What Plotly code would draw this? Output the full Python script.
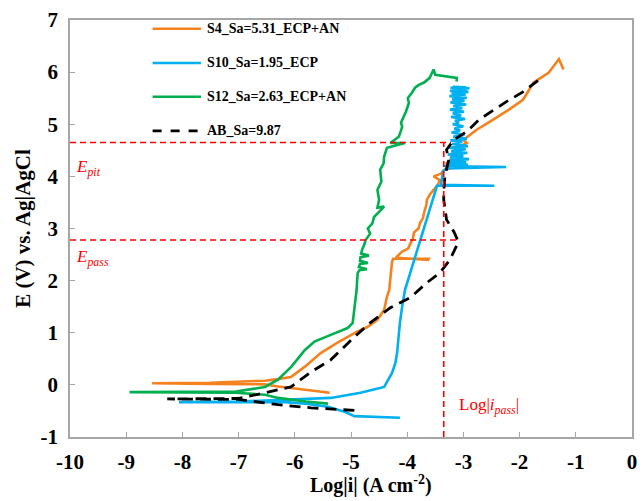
import plotly.graph_objects as go

# Potentiodynamic polarization curves: log|i| (A cm^-2) vs E (V vs Ag|AgCl)
s4_logi = [-5.38, -5.82, -6.07, -6.30, -6.53, -7.50, -8.54, -7.50, -6.80, -6.53, -6.30,
           -6.07, -5.82, -5.54, -5.24, -4.89, -4.71, -4.53, -4.41, -4.36, -4.32, -4.30,
           -4.27, -4.25, -3.62, -3.63, -4.20, -4.10, -3.98, -3.95, -3.90, -3.88, -3.80,
           -3.77, -3.72, -3.70, -3.66, -3.65, -3.60, -3.53, -3.45, -3.42, -3.53, -3.40,
           -3.35, -3.25, -3.30, -3.17, -3.12, -3.05, -2.94, -3.00, -2.90, -2.77, -2.47,
           -2.19, -1.94, -1.75, -1.48, -1.30, -1.22]
s4_e = [-0.15, -0.10, -0.06, -0.03, 0.01, 0.02, 0.03, 0.04, 0.06, 0.08, 0.11,
        0.15, 0.35, 0.61, 0.81, 1.02, 1.11, 1.25, 1.44, 1.69, 1.82, 2.02,
        2.36, 2.42, 2.42, 2.40, 2.44, 2.55, 2.62, 2.70, 2.80, 2.92, 3.00,
        3.11, 3.20, 3.30, 3.45, 3.55, 3.65, 3.74, 3.85, 3.93, 4.00, 4.05,
        4.12, 4.15, 4.25, 4.38, 4.50, 4.58, 4.64, 4.70, 4.78, 4.89, 5.09,
        5.28, 5.47, 5.80, 5.99, 6.25, 6.05]

s10_logi = [-4.13, -4.60, -4.94, -5.10, -5.41, -5.80, -6.17, -7.00, -8.06, -7.00, -6.30,
            -5.36, -4.83, -4.41, -4.27, -4.21, -4.18, -4.16, -4.13, -4.09, -4.04, -3.47,
            -2.45, -3.40, -3.38, -3.36, -3.30, -2.24, -3.35, -2.92, -3.30, -2.95, -3.26,
            -2.90, -3.24, -3.00, -3.28, -2.93, -3.22, -2.96, -3.25, -2.92, -3.20, -3.02,
            -3.23, -2.94, -3.18, -2.98, -3.21, -3.06, -3.16, -3.00, -3.19, -3.08, -3.15,
            -2.97, -3.22, -3.04, -3.19, -2.99, -3.24, -3.02, -3.18, -2.95, -3.23, -2.98,
            -3.20, -2.94, -3.25, -2.96, -3.21, -2.91, -3.24, -2.93, -3.20, -2.89, -3.23,
            -2.95, -3.19]
s10_e = [-0.63, -0.62, -0.60, -0.52, -0.42, -0.36, -0.33, -0.33, -0.33, -0.32, -0.29,
         -0.25, -0.15, -0.04, 0.23, 0.42, 0.61, 0.86, 1.19, 1.50, 1.82, 3.82,
         3.82, 3.84, 4.00, 4.10, 4.15, 4.18, 4.20, 4.22, 4.25, 4.27, 4.30,
         4.33, 4.36, 4.39, 4.42, 4.45, 4.48, 4.52, 4.55, 4.58, 4.62, 4.66,
         4.69, 4.72, 4.76, 4.80, 4.84, 4.88, 4.92, 4.96, 5.00, 5.03, 5.07,
         5.10, 5.14, 5.17, 5.21, 5.24, 5.28, 5.31, 5.35, 5.38, 5.42, 5.45,
         5.48, 5.51, 5.54, 5.57, 5.60, 5.62, 5.64, 5.66, 5.68, 5.69, 5.70,
         5.71, 5.72]

s12_logi = [-5.41, -5.80, -6.30, -6.53, -7.05, -8.94, -7.05, -6.53, -6.30, -6.06, -5.82,
            -5.65, -5.36, -5.06, -4.97, -4.94, -4.90, -4.89, -4.88, -4.85, -4.72, -4.86,
            -4.84, -4.70, -4.84, -4.83, -4.68, -4.82, -4.80, -4.76, -4.74, -4.66, -4.70,
            -4.62, -4.59, -4.41, -4.53, -4.50, -4.53, -4.46, -4.48, -4.42, -4.41, -4.36,
            -4.04, -4.30, -4.15, -4.12, -4.09, -4.11, -4.06, -4.02, -3.97, -3.99, -3.92,
            -3.86, -3.80, -3.70, -3.60, -3.53, -3.50, -3.12, -3.12]
s12_e = [-0.36, -0.32, -0.25, -0.19, -0.15, -0.14, -0.13, -0.04, 0.10, 0.35, 0.67,
         0.83, 0.96, 1.09, 1.19, 1.44, 1.82, 2.02, 2.15, 2.20, 2.22, 2.26,
         2.32, 2.34, 2.38, 2.45, 2.48, 2.52, 2.60, 2.70, 2.78, 2.90, 3.00,
         3.10, 3.22, 3.42, 3.40, 3.55, 3.74, 3.90, 4.13, 4.25, 4.38, 4.55,
         4.64, 4.64, 4.76, 4.85, 4.95, 5.03, 5.14, 5.25, 5.41, 5.50, 5.60,
         5.70, 5.75, 5.80, 5.89, 6.05, 5.95, 5.89, 5.82]

ab_logi = [-4.94, -5.71, -6.30, -7.00, -8.27, -7.00, -6.53, -6.30, -6.07, -5.71, -5.36,
           -4.94, -4.66, -4.30, -3.95, -3.65, -3.42, -3.24, -3.09, -3.16, -3.30, -3.35,
           -3.35, -3.33, -3.26, -3.30, -3.17, -2.94, -2.72, -2.45, -2.24, -1.94, -1.66]
ab_e = [-0.49, -0.44, -0.38, -0.28, -0.27, -0.26, -0.15, -0.10, -0.04, 0.25, 0.48,
        0.92, 1.19, 1.48, 1.67, 1.96, 2.15, 2.40, 2.74, 2.92, 3.17, 3.55,
        3.69, 4.00, 4.32, 4.51, 4.70, 4.86, 5.09, 5.28, 5.43, 5.62, 5.85]

series_names = ["S4_Sa=5.31_ECP+AN", "S10_Sa=1.95_ECP", "S12_Sa=2.63_ECP+AN", "AB_Sa=9.87"]
series_colors = ["#f5821f", "#00b0f0", "#00b050", "#000000"]
series_dash = ["solid", "solid", "solid", "11px,7px"]

# Characteristic values
e_pit = 4.65
e_pass = 2.78
log_i_pass = -3.35

x_ticks = list(range(-10, 1))
y_ticks = list(range(-1, 8))

FONT = "Liberation Serif"
RED = "#ff0000"
FRAME = "#a6a6a6"

fig = go.Figure()

all_x = [s4_logi, s10_logi, s12_logi, ab_logi]
all_y = [s4_e, s10_e, s12_e, ab_e]
for xs, ys, name, col, dash in zip(all_x, all_y, series_names, series_colors, series_dash):
    fig.add_trace(go.Scatter(
        x=xs, y=ys, mode="lines", name=name, showlegend=False,
        line=dict(color=col, width=2.6 if dash == "solid" else 2.8, dash=dash),
    ))

# Reference lines for E_pit, E_pass and log|i_pass|
fig.add_trace(go.Scatter(x=[-10, -3.22], y=[e_pit, e_pit], mode="lines", showlegend=False,
                         line=dict(color=RED, width=1.6, dash="6px,4px")))
fig.add_trace(go.Scatter(x=[-10, -3.12], y=[e_pass, e_pass], mode="lines", showlegend=False,
                         line=dict(color=RED, width=1.6, dash="6px,4px")))
fig.add_trace(go.Scatter(x=[log_i_pass, log_i_pass], y=[-1, e_pit], mode="lines", showlegend=False,
                         line=dict(color=RED, width=1.6, dash="6px,4px")))

# Legend drawn as line samples + labels in paper coordinates
leg_rows = [0.979, 0.897, 0.816, 0.734]
for name, col, dash, yy in zip(series_names, series_colors, series_dash, leg_rows):
    fig.add_shape(type="line", xref="paper", yref="paper", x0=0.147, x1=0.233, y0=yy, y1=yy,
                  line=dict(color=col, width=2.6 if dash == "solid" else 2.8,
                            dash="dash" if dash != "solid" else "solid"))
    fig.add_annotation(xref="paper", yref="paper", x=0.240, y=yy, text="<b>%s</b>" % name,
                       showarrow=False, xanchor="left", yanchor="middle",
                       font=dict(family=FONT, size=14, color="#000000"))

fig.add_annotation(xref="paper", yref="paper", x=0.008, y=0.645,
                   text="<i>E<sub>pit</sub></i>", showarrow=False, xanchor="left", yanchor="middle",
                   font=dict(family=FONT, size=17, color=RED))
fig.add_annotation(xref="paper", yref="paper", x=0.008, y=0.43,
                   text="<i>E<sub>pass</sub></i>", showarrow=False, xanchor="left", yanchor="middle",
                   font=dict(family=FONT, size=17, color=RED))
fig.add_annotation(xref="paper", yref="paper", x=0.688, y=0.075,
                   text="Log|<i>i<sub>pass</sub></i>|", showarrow=False, xanchor="left", yanchor="middle",
                   font=dict(family=FONT, size=17, color=RED))

# x-axis title
fig.add_annotation(xref="paper", yref="paper", x=0.535, y=-0.113,
                   text="<b>Log|i| (A cm<sup>-2</sup>)</b>", showarrow=False,
                   xanchor="center", yanchor="middle",
                   font=dict(family=FONT, size=20, color="#000000"))

axis_common = dict(
    showgrid=False, zeroline=False, showline=True, mirror=True,
    linecolor=FRAME, linewidth=1.5, ticks="inside", ticklen=5, tickcolor=FRAME, tickwidth=1.2,
    tickfont=dict(family=FONT, size=21, color="#000000"),
)

fig.update_layout(
    width=644, height=501,
    margin=dict(l=70, r=7, t=20, b=64),
    paper_bgcolor="white", plot_bgcolor="white",
    xaxis=dict(range=[-10, 0], tickvals=x_ticks, ticktext=["<b>%d</b>" % v for v in x_ticks],
               ticklabelstandoff=5, **axis_common),
    yaxis=dict(range=[-1, 7], tickvals=y_ticks, ticktext=["<b>%d</b>" % v for v in y_ticks],
               ticklabelstandoff=6,
               title=dict(text="<b>E (V) vs. Ag|AgCl</b>", standoff=4,
                          font=dict(family=FONT, size=21, color="#000000")),
               **axis_common),
)

fig.write_html("out.html")
